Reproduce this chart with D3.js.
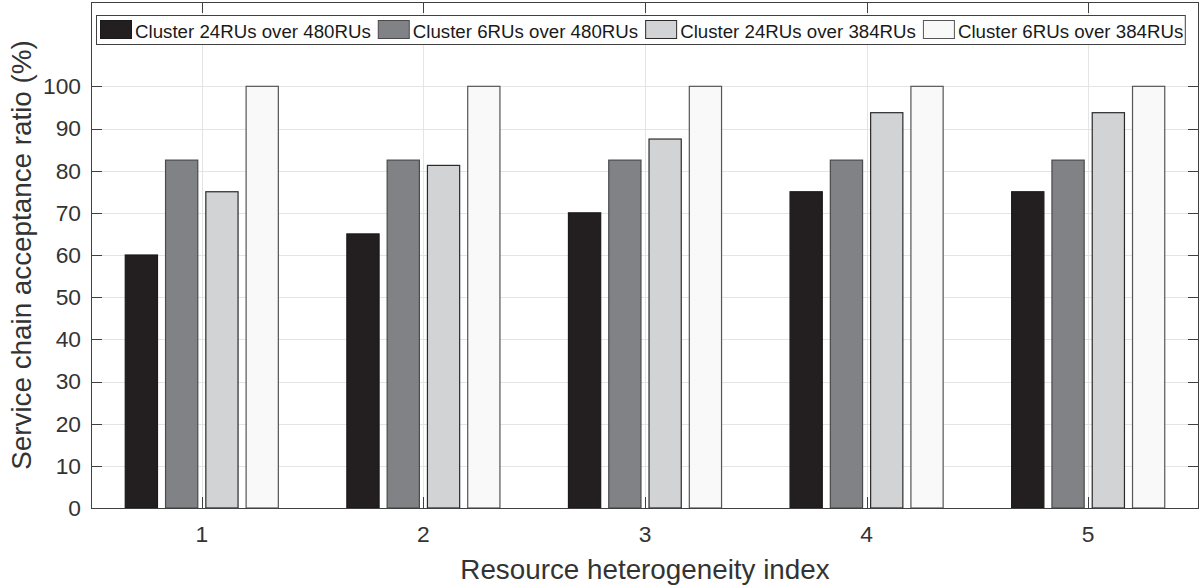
<!DOCTYPE html>
<html>
<head>
<meta charset="utf-8">
<script src="https://cdn.jsdelivr.net/npm/d3@7"></script>
<style>
  html, body { margin: 0; padding: 0; background: #fff; }
  svg { display: block; font-family: "Liberation Sans", Arial, Helvetica, sans-serif; }
</style>
</head>
<body>
<svg id="chart" width="1203" height="588"></svg>
<script>
// ---- data ----
const categories = [1, 2, 3, 4, 5];
const seriesNames = [
  "Cluster 24RUs over 480RUs",
  "Cluster 6RUs over 480RUs",
  "Cluster 24RUs over 384RUs",
  "Cluster 6RUs over 384RUs"
];
const cluster24over480 = [60, 65, 70, 75, 75];
const cluster6over480 = [82.5, 82.5, 82.5, 82.5, 82.5];
const cluster24over384 = [75, 81.25, 87.5, 93.75, 93.75];
const cluster6over384 = [100, 100, 100, 100, 100];
const yTicks = [0, 10, 20, 30, 40, 50, 60, 70, 80, 90, 100];
const xTicks = [1, 2, 3, 4, 5];
const xLabel = "Resource heterogeneity index";
const yLabel = "Service chain acceptance ratio (%)";

const seriesValues = [cluster24over480, cluster6over480, cluster24over384, cluster6over384];
const fills = ["#231f20", "#808285", "#d1d3d4", "#f9f9f9"];
const strokes = ["#1a1a1a", "#4a4a4c", "#2a2a2a", "#555555"];

// ---- layout ----
const L = 91, R = 1199, T = 2, B = 508;
const svg = d3.select("#chart");
svg.append("rect").attr("width", 1203).attr("height", 588).attr("fill", "#fff");

const x = d3.scaleLinear().domain([0.5, 5.5]).range([L, R]);
const y = d3.scaleLinear().domain([0, 120]).range([B, T]);
const sub = d3.scaleBand().domain(seriesNames).range([-0.3636, 0.3636]).paddingInner(0.2).paddingOuter(0.1);

// gridlines
const grid = svg.append("g").attr("stroke", "#e4e4e4").attr("stroke-width", 1);
grid.selectAll("line.h").data(yTicks).enter().append("line")
  .attr("x1", L).attr("x2", R)
  .attr("y1", d => Math.round(y(d)) + 0.5).attr("y2", d => Math.round(y(d)) + 0.5);
grid.selectAll("line.v").data(xTicks).enter().append("line")
  .attr("y1", T).attr("y2", B)
  .attr("x1", d => Math.round(x(d)) + 0.5).attr("x2", d => Math.round(x(d)) + 0.5);

// bars
seriesNames.forEach((name, si) => {
  svg.append("g").selectAll("rect").data(categories).enter().append("rect")
    .attr("x", (c) => x(c + sub(name)))
    .attr("width", x(sub.bandwidth()) - x(0))
    .attr("y", (c, i) => y(seriesValues[si][i]))
    .attr("height", (c, i) => y(0) - y(seriesValues[si][i]))
    .attr("fill", fills[si])
    .attr("stroke", strokes[si])
    .attr("stroke-width", 1.2);
});

// axes box
const axisColor = "#404040";
svg.append("rect").attr("x", L + 0.5).attr("y", T + 0.5).attr("width", R - L - 1).attr("height", B - T)
  .attr("fill", "none").attr("stroke", axisColor).attr("stroke-width", 1);

// ticks (inward on all four sides)
const tk = 11;
const ticks = svg.append("g").attr("stroke", axisColor).attr("stroke-width", 1);
yTicks.forEach(v => {
  const yy = Math.round(y(v)) + 0.5;
  ticks.append("line").attr("x1", L).attr("x2", L + tk).attr("y1", yy).attr("y2", yy);
  ticks.append("line").attr("x1", R - tk).attr("x2", R).attr("y1", yy).attr("y2", yy);
});
xTicks.forEach(v => {
  const xx = Math.round(x(v)) + 0.5;
  ticks.append("line").attr("x1", xx).attr("x2", xx).attr("y1", B).attr("y2", B - tk);
  ticks.append("line").attr("x1", xx).attr("x2", xx).attr("y1", T).attr("y2", T + tk);
});

// tick labels
const textColor = "#333333";
svg.append("g").selectAll("text").data(yTicks).enter().append("text")
  .attr("x", L - 10).attr("y", d => y(d)).attr("dy", "0.35em")
  .attr("text-anchor", "end").attr("font-size", "22.8px").attr("fill", textColor)
  .text(d => d);
svg.append("g").selectAll("text").data(xTicks).enter().append("text")
  .attr("x", d => x(d)).attr("y", 542)
  .attr("text-anchor", "middle").attr("font-size", "22.8px").attr("fill", textColor)
  .text(d => d);

// axis labels
svg.append("text").attr("x", (L + R) / 2).attr("y", 579)
  .attr("text-anchor", "middle").attr("font-size", "27.8px").attr("fill", textColor)
  .text(xLabel);
svg.append("text").attr("transform", `translate(31, ${(T + B) / 2}) rotate(-90)`)
  .attr("text-anchor", "middle").attr("font-size", "27.8px").attr("fill", textColor)
  .text(yLabel);

// legend
const leg = svg.append("g");
const legBox = leg.append("rect").attr("x", 96.5).attr("y", 15.5).attr("height", 29)
  .attr("fill", "#fff").attr("stroke", axisColor).attr("stroke-width", 1);
let lx = 100;
seriesNames.forEach((name, si) => {
  leg.append("rect").attr("x", lx + 0.5).attr("y", 20.5).attr("width", 31).attr("height", 18)
    .attr("fill", fills[si]).attr("stroke", strokes[si]).attr("stroke-width", 1);
  const t = leg.append("text").attr("x", lx + 35).attr("y", 37.5)
    .attr("font-size", "18.7px").attr("fill", "#1a1a1a").text(name);
  const w = t.node().getComputedTextLength();
  lx = lx + 35 + w + 7;
});
legBox.attr("width", (lx - 7 + 2) - 96.5);
</script>
</body>
</html>
